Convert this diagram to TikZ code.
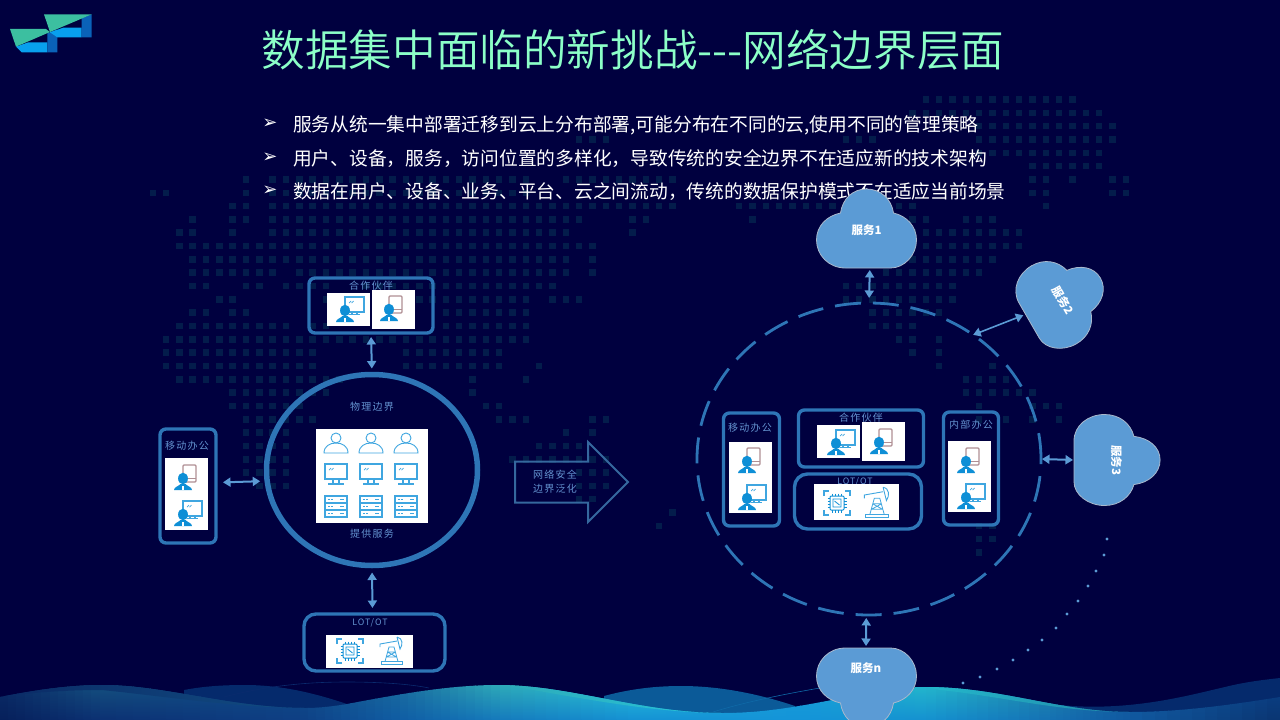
\documentclass[tikz,border=0pt]{standalone}
\usepackage{fontspec}
\usetikzlibrary{arrows.meta, positioning, shapes.geometric, shapes.arrows}
\setmainfont{Noto Sans CJK SC}
\newfontfamily\titlefont[UprightFont=* DemiLight]{Noto Sans CJK SC}
\newfontfamily\lblfont[LetterSpace=12]{Noto Sans CJK SC}
\newfontfamily\symfont{DejaVu Sans}
\definecolor{pagebg}{HTML}{00003F}
\definecolor{mapdot}{HTML}{031C4B}
\definecolor{zone}{HTML}{2E75B6}
\definecolor{soft}{HTML}{5B9BD5}
\definecolor{lbl}{HTML}{6493D0}
\definecolor{mint}{HTML}{8CFFC8}
\definecolor{iconblue}{HTML}{0E8FD6}
\definecolor{iconline}{HTML}{3FA6E0}
\definecolor{phonecol}{HTML}{B08F94}
\definecolor{cloudedge}{HTML}{A9B8CC}
\definecolor{logoblue}{HTML}{08A0EE}
\definecolor{logodark}{HTML}{0A62B8}
\definecolor{logogreen}{HTML}{3CBFA0}
\definecolor{wavenavy}{HTML}{052A6C}
\definecolor{waveblue}{HTML}{0B5A98}
\definecolor{faintA}{HTML}{0A2A6E}
\definecolor{faintB}{HTML}{0F6AA8}
\definecolor{arrowline}{HTML}{35689E}
% sea colours, crest (t) and floor (b)
\definecolor{t0}{HTML}{0A2A66}\definecolor{b0}{HTML}{061F5A}
\definecolor{t1}{HTML}{14507F}\definecolor{b1}{HTML}{0B2F72}
\definecolor{t2}{HTML}{0E4A88}\definecolor{b2}{HTML}{0E3F84}
\definecolor{t3}{HTML}{1A6C9E}\definecolor{b3}{HTML}{0F5CA4}
\definecolor{t4}{HTML}{2EAAB8}\definecolor{b4}{HTML}{1478BC}
\definecolor{t5}{HTML}{27C4DA}\definecolor{b5}{HTML}{1490D4}
\definecolor{t6}{HTML}{159CD8}\definecolor{b6}{HTML}{1494D8}
\definecolor{t7}{HTML}{24B8CC}\definecolor{b7}{HTML}{1490D0}
\definecolor{t8}{HTML}{2088A8}\definecolor{b8}{HTML}{1470B4}
\definecolor{t9}{HTML}{125EA0}\definecolor{b9}{HTML}{1058A0}
\definecolor{t10}{HTML}{0A3F86}\definecolor{b10}{HTML}{0A3470}
\newcommand{\cloudpath}{(-21,39) .. controls (-38,39) and (-50,26) .. (-50,11)
  .. controls (-50,-3) and (-40,-13) .. (-26,-16)
  .. controls (-24,-30) and (-14,-40) .. (0,-40)
  .. controls (14,-40) and (25,-30) .. (27,-16)
  .. controls (40,-13) and (50,-3) .. (50,11)
  .. controls (50,26) and (38,39) .. (24,39) -- cycle}
\tikzset{
  pics/staff/.style={code={
    \fill[iconblue] (0,-11.5) ellipse (4.9 and 5.8);
    \fill[iconblue] (-9,0) .. controls (-9,-3) and (-4,-4) .. (-2.5,-6) -- (2.5,-6)
      .. controls (4,-4) and (9,-3) .. (9,0) -- cycle;
    \fill[white] (-.7,-4.5) rectangle (.7,0);
  }},
  pics/staffpc/.style={code={
    \draw[iconline, line width=1.1] (0,-25) rectangle (19,-10);
    \draw[iconline, line width=1.1] (7,-10) -- (7,-7.5) (12,-10) -- (12,-7.5) (4,-7.2) -- (15,-7.2);
    \draw[iconline, line width=.7] (4,-19) -- (6,-21) (6.5,-19) -- (8.5,-21);
    \pic at (0,0) {staff};
  }},
  pics/staffphone/.style={code={
    \draw[phonecol, line width=1.2, rounded corners=1] (0,-25) rectangle (13,-8);
    \draw[phonecol, line width=.8] (0,-12) -- (13,-12);
    \pic at (0,0) {staff};
  }},
  pics/userline/.style={code={
    \draw[iconline, line width=.9] (0,-15) circle (5);
    \draw[iconline, line width=.9] (-12,0) .. controls (-12,-7) and (-6,-10) .. (0,-10)
      .. controls (6,-10) and (12,-7) .. (12,0) -- cycle;
  }},
  pics/deskmon/.style={code={
    \draw[iconline, line width=1.2] (-11,-21) rectangle (11,-6);
    \draw[iconline, line width=1.1] (-3,-6) -- (-3,-2) (3,-6) -- (3,-2) (-8,-1) -- (8,-1);
    \draw[iconline, line width=.7] (-7,-15) -- (-5,-17) (-4.5,-15) -- (-2.5,-17);
  }},
  pics/rackbox/.style={code={
    \foreach \ry in {-21,-14,-7} {
      \draw[iconline, line width=1.1] (-11,\ry) rectangle (11,\ry+7);
      \draw[iconline, line width=.8] (-8,\ry+3.5) -- (-6.5,\ry+3.5) (-5,\ry+3.5) -- (-3.5,\ry+3.5) (4,\ry+3.5) -- (8,\ry+3.5);
    }
  }},
  pics/chipicon/.style={code={
    \draw[iconline, line width=1.2] (-13,-7) -- (-13,-12) -- (-8,-12) (8,-12) -- (13,-12) -- (13,-7)
      (13,7) -- (13,12) -- (8,12) (-8,12) -- (-13,12) -- (-13,7);
    \draw[iconblue, line width=1, rounded corners=1] (-7,-7) rectangle (7,7);
    \draw[iconblue, line width=.8] (-4,-4) rectangle (4,4) (-2.5,-2) -- (2.5,2);
    \foreach \pn in {-4.5,-1.5,1.5,4.5} {
      \draw[iconblue, line width=.7] (\pn,-9.5) -- (\pn,-7) (\pn,7) -- (\pn,9.5) (-9.5,\pn) -- (-7,\pn) (7,\pn) -- (9.5,\pn);
    }
  }},
  pics/pumpicon/.style={code={
    \draw[iconline, line width=.9] (-10,-2.5) rectangle (11,0);
    \draw[iconline, line width=.8] (-6,-2.5) -- (-2,-17) -- (3,-17) -- (7,-2.5)
      (-4.5,-7) -- (5.5,-7) (-3.5,-12) -- (4.5,-12) (-3.5,-12) -- (5.5,-7) (4.5,-12) -- (-4.5,-7);
    \draw[iconline, line width=.9] (-11,-17) -- (-11,-20) -- (6,-23);
    \draw[iconline, line width=.9] (6,-27) .. controls (12,-26) and (12,-19) .. (9,-15) -- (6,-27);
  }}
}
\begin{document}
\begin{tikzpicture}[x=1pt, y=-1pt,
    zonebox/.style={draw=zone, line width=3.4pt, rounded corners=6pt, inner sep=0pt, outer sep=0pt},
    tile/.style={fill=white, inner sep=0pt},
    lab/.style={font=\lblfont\fontsize{10}{12}\selectfont, text=lbl, inner sep=0pt},
    biar/.style={{Triangle[length=7.5pt,width=9pt]}-{Triangle[length=7.5pt,width=9pt]}, soft, line width=2pt},
    cloudshape/.style={fill=soft, draw=cloudedge, line width=.8pt},
    cloudtext/.style={font=\fontsize{11.5}{13}\selectfont\bfseries, text=white, inner sep=0pt, outer sep=0pt},
    bullet/.style={font=\fontsize{18.75}{22}\selectfont, text=white, anchor=west, inner sep=0pt},
    bulletmark/.style={font=\symfont\fontsize{18}{20}\selectfont, text=white, inner sep=0pt}
  ]
  \useasboundingbox (0,0) rectangle (1280,720);
  \fill[pagebg] (0,0) rectangle (1280,720);

  % world map
  \foreach \row/\from/\to in {-7/58/69,-6/57/71,-5/62/72,-4/32/34,-4/52/54,-4/62/72,-3/62/71,-2/66/71,
      -1/7/7,-1/9/28,-1/31/39,-1/66/67,-1/69/69,-1/72/73,0/0/1,0/7/7,0/9/28,0/66/67,0/72/73,
      1/6/7,1/9/39,1/44/57,1/67/67,2/3/3,2/6/7,2/9/32,2/36/37,2/45/45,2/57/58,2/61/63,
      3/2/3,3/6/6,3/9/31,3/36/36,3/57/65,4/2/33,4/57/65,5/3/31,5/33/33,5/57/63,
      6/3/9,6/11/31,6/33/33,6/55/62,7/3/4,7/7/8,7/10/13,7/16/30,7/52/60,
      8/5/6,8/13/14,8/20/28,8/30/32,8/52/60,9/3/4,9/6/7,9/22/28,9/54/59,
      10/2/10,10/12/13,10/22/28,10/54/57,11/1/28,11/56/57,11/59/59,
      12/1/12,12/19/26,12/57/57,12/59/59,13/1/12,13/19/26,13/29/29,13/59/59,13/63/63,
      14/2/14,14/24/24,14/28/28,14/61/64,15/6/13,15/24/24,15/61/66,
      16/6/11,16/25/26,16/62/62,16/66/68,17/7/12,17/26/28,17/33/34,17/62/62,17/64/64,17/66/66,17/68/68,
      18/7/10,18/31/31,18/33/33,19/7/10,19/29/32,20/7/10,20/27/34,21/7/10,21/32/34,22/8/10,22/32/34,
      23/32/33,24/39/39,25/38/38,25/62/63,26/62/63,27/62/62} {
    \foreach \col in {\from,...,\to} {
      \fill[mapdot] ({152.7+13.33*\col-3.2},{192.7+13.33*\row-3.2}) rectangle ++(6.4,6.4);
    }
  }

  % logo
  \begin{scope}[scale=1/3]
    \fill[logoblue] (48,140) -- (85,127) -- (142,127) -- (142,157) -- (65,157) -- cycle;
    \fill[logodark] (142,100) -- (172,88) -- (172,157) -- (142,157) -- cycle;
    \fill[logogreen] (30,87) -- (138,87) -- (150,96) -- (48,140) -- cycle;
    \fill[logoblue] (150,97) -- (190,83) -- (245,83) -- (245,112) -- (172,112) -- cycle;
    \fill[logodark] (245,55) -- (275,43) -- (275,112) -- (245,112) -- cycle;
    \fill[logogreen] (132,43) -- (275,43) -- (150,96) -- cycle;
  \end{scope}

  % waves
  \fill[wavenavy] (184,690) .. controls (205,686) and (225,685) .. (245,685) .. controls (285,685) and (320,695) .. (347,704) -- (347,720) -- (184,720) -- cycle;
  \fill[waveblue] (604,696) .. controls (630,689) and (655,686) .. (681,686) .. controls (725,686) and (765,696) .. (795,706) -- (795,720) -- (604,720) -- cycle;
  \fill[wavenavy] (1060,705) .. controls (1130,712) and (1190,695) .. (1225,687) .. controls (1245,682) and (1262,680) .. (1280,678) -- (1280,720) -- (1060,720) -- cycle;
  \draw[faintA, line width=.6pt] (224,697) .. controls (270,685) and (310,682) .. (347,682) .. controls (380,682) and (410,684) .. (429,688);
  \begin{scope}
    \clip (0,697) .. controls (35,690) and (70,685) .. (102,685)
      .. controls (165,685) and (230,708) .. (306,708) .. controls (320,708) and (335,706) .. (347,704)
      .. controls (400,694) and (450,685) .. (498,685) .. controls (570,685) and (640,713) .. (722,713)
      .. controls (760,713) and (790,708) .. (832,700) .. controls (865,693) and (895,687) .. (926,687)
      .. controls (1000,687) and (1060,712) .. (1130,712) .. controls (1180,712) and (1230,705) .. (1280,697)
      -- (1280,720) -- (0,720) -- cycle;
    \foreach \xa/\xb/\ca/\cb in {0/100/0/1,100/300/1/2,300/400/2/3,400/500/3/4,500/640/4/5,640/800/5/6,800/926/6/7,926/1050/7/8,1050/1130/8/9,1130/1280/9/10} {
      \foreach \k in {0,...,11} {
        \pgfmathsetmacro{\xl}{\xa+(\xb-\xa)*\k/12}
        \pgfmathsetmacro{\xr}{\xa+(\xb-\xa)*(\k+1)/12+1}
        \pgfmathtruncatemacro{\pc}{100-100*(\k+.5)/12}
        \shade[top color=t\ca!\pc!t\cb, bottom color=b\ca!\pc!b\cb] (\xl,684) rectangle (\xr,721);
      }
    }
  \end{scope}
  \shade[left color=t0, right color=t1!60!t2] (0,697) .. controls (35,690) and (70,685) .. (102,685)
    .. controls (165,685) and (230,708) .. (306,708) .. controls (240,708) and (170,697) .. (102,690) .. controls (70,690) and (35,692) .. (0,697) -- cycle;
  \shade[left color=t4, right color=t5] (498,685) .. controls (570,685) and (640,713) .. (722,713)
    .. controls (660,713) and (590,700) .. (522,688) -- cycle;
  \shade[left color=t7, right color=t8] (926,687) .. controls (1000,687) and (1060,712) .. (1130,712)
    .. controls (1060,712) and (1000,696) .. (940,690) -- cycle;
  \draw[faintB, line width=.6pt] (713,712) .. controls (745,702) and (785,694) .. (820,688);

  % title and bullets
  \node[font=\titlefont\fontsize{43.6}{46}\selectfont, text=mint, inner sep=0pt] (title) at (633,50) {数据集中面临的新挑战-{}-{}-网络边界层面};
  \node[bulletmark] (m1) at (270,124) {➢};
  \node[bulletmark] (m2) at (270,158) {➢};
  \node[bulletmark] (m3) at (270,191) {➢};
  \node[bullet] (b1) at (293,125) {服务从统一集中部署迁移到云上分布部署,可能分布在不同的云,使用不同的管理策略};
  \node[bullet] (b2) at (293,159) {用户、设备，服务，访问位置的多样化，导致传统的安全边界不在适应新的技术架构};
  \node[bullet] (b3) at (293,192) {数据在用户、设备、业务、平台、云之间流动，传统的数据保护模式不在适应当前场景};

  % physical boundary
  \node[draw=zone, line width=5.5pt, ellipse, inner sep=0pt, outer sep=0pt, minimum width=211, minimum height=191] (phys) at (372,470) {};
  \node[lab] (physlab) at (372,407) {物理边界};
  \node[tile, minimum width=112, minimum height=94] (grid) at (372,476) {};
  \foreach \cx in {336,371,406} {
    \pic at (\cx,453) {userline};
    \pic at (\cx,485) {deskmon};
    \pic at (\cx,517) {rackbox};
  }
  \node[lab] (physsrv) at (372,534) {提供服务};

  \node[zonebox, minimum width=124, minimum height=55] (partner) at (371,305.5) {};
  \node[lab] (partnerlab) at (371,286) {合作伙伴};
  \node[tile, minimum width=43, minimum height=33] (partner1) at (348.5,309.5) {};
  \node[tile, minimum width=43, minimum height=39] (partner2) at (393.5,309.5) {};
  \pic at (345,322) {staffpc};
  \pic at (389,321) {staffphone};

  \node[zonebox, minimum width=56, minimum height=114] (mobile) at (188,486) {};
  \node[lab] (mobilelab) at (187,446) {移动办公};
  \node[tile, minimum width=43, minimum height=72] (mobiletile) at (186.5,494) {};
  \pic at (183,490) {staffphone};
  \pic at (183,526) {staffpc};

  \node[zonebox, rounded corners=12pt, minimum width=141, minimum height=57] (iot) at (374.5,642.5) {};
  \node[lab, font=\lblfont\fontsize{8.8}{11}\selectfont] (iotlab) at (370,623) {LOT/OT};
  \node[tile, minimum width=87, minimum height=33] (iottile) at (369.5,651.5) {};
  \pic at (350,651) {chipicon};
  \pic at (391,664) {pumpicon};

  \draw[biar, shorten <=4pt, shorten >=6pt] (partner.south) -- (phys.north);
  \draw[biar, shorten <=7pt, shorten >=7pt] (mobile.7.85) -- (phys.186.4);
  \draw[biar, shorten <=7pt, shorten >=6pt] (phys.south) -- (iot.94.8);

  % big arrow
  \node[single arrow, draw=arrowline, line width=2pt, inner sep=0pt, outer sep=0pt, minimum height=113,
    single arrow head extend=19.5, single arrow tip angle=90, single arrow head indent=0, anchor=tail] (shift) at (515,482) {\rule{0pt}{39pt}};
  \node[lab, align=center, font=\lblfont\fontsize{10}{14}\selectfont] (shiftlab) at (555,482) {网络安全\\边界泛化};

  % distributed side
  \node[draw=zone, line width=2.8pt, dash pattern=on 26pt off 12pt, ellipse, inner sep=0pt, outer sep=0pt, minimum width=344, minimum height=312] (ring) at (869,459) {};

  \node[zonebox, minimum width=56, minimum height=113] (mobileb) at (751.5,469.5) {};
  \node[lab] (mobileblab) at (750,428) {移动办公};
  \node[tile, minimum width=43, minimum height=71] (mobilebtile) at (750.5,477.5) {};
  \pic at (747,473) {staffphone};
  \pic at (747,510) {staffpc};

  \node[zonebox, minimum width=125, minimum height=57] (partnerb) at (861,438.5) {};
  \node[lab] (partnerblab) at (861,418) {合作伙伴};
  \node[tile, minimum width=43, minimum height=33] (partnerb1) at (838.5,441.5) {};
  \node[tile, minimum width=43, minimum height=39] (partnerb2) at (883.5,441.5) {};
  \pic at (836,455) {staffpc};
  \pic at (879,454) {staffphone};

  \node[zonebox, rounded corners=13pt, minimum width=127, minimum height=55] (iotb) at (858,501.5) {};
  \node[lab, font=\lblfont\fontsize{8.8}{11}\selectfont] (iotblab) at (855,482) {LOT/OT};
  \node[tile, minimum width=85, minimum height=36] (iotbtile) at (856.5,502) {};
  \pic at (837,503) {chipicon};
  \pic[scale=1.1] at (876.5,517) {pumpicon};

  \node[zonebox, minimum width=55, minimum height=113] (inner) at (971,468.5) {};
  \node[lab] (innerlab) at (971,425) {内部办公};
  \node[tile, minimum width=43, minimum height=71] (innertile) at (969.5,476.5) {};
  \pic at (966,473) {staffphone};
  \pic at (966,509) {staffpc};

  % clouds
  \draw[cloudshape, shift={(866.5,229)}] \cloudpath;
  \draw[cloudshape, shift={(1064,299)}, rotate=-60, xscale=.9, yscale=1.05] \cloudpath;
  \draw[cloudshape, shift={(1116.5,460)}, rotate=-90, xscale=.91, yscale=1.09] \cloudpath;
  \draw[cloudshape, shift={(866.5,687)}, yscale=-1] \cloudpath;
  \node[cloudtext, minimum width=100, minimum height=76] (cloud1) at (866.5,230) {服务1};
  \node[cloudtext, rotate=-60, minimum width=90, minimum height=82] (cloud2) at (1063,300) {服务2};
  \node[cloudtext, rotate=-90, minimum width=90, minimum height=85] (cloud3) at (1116.5,460) {服务3};
  \node[cloudtext, minimum width=60, minimum height=40] (cloudn) at (866,668) {服务n};

  \draw[biar, shorten <=2pt, shorten >=5pt] (cloud1.-85.5) -- (ring.north);
  \draw[biar, line width=1.6pt, shorten >=1pt] (ring.50.5) -- (cloud2.261);
  \draw[biar, shorten <=1pt, shorten >=1pt] (ring.east) -- (cloud3.south);
  \draw[biar, shorten <=3pt, shorten >=2pt] (ring.269) -- (cloudn.north);

  % dotted trail
  \foreach \dx/\dy in {1107/539,1104/555,1096/571,1088/586,1078/601,1067/614,1056/628,1042/640,1028/650,1013/660,997/669,980/677,963/683} {
    \fill[soft] (\dx,\dy) circle (1.6);
  }
\end{tikzpicture}
\end{document}
